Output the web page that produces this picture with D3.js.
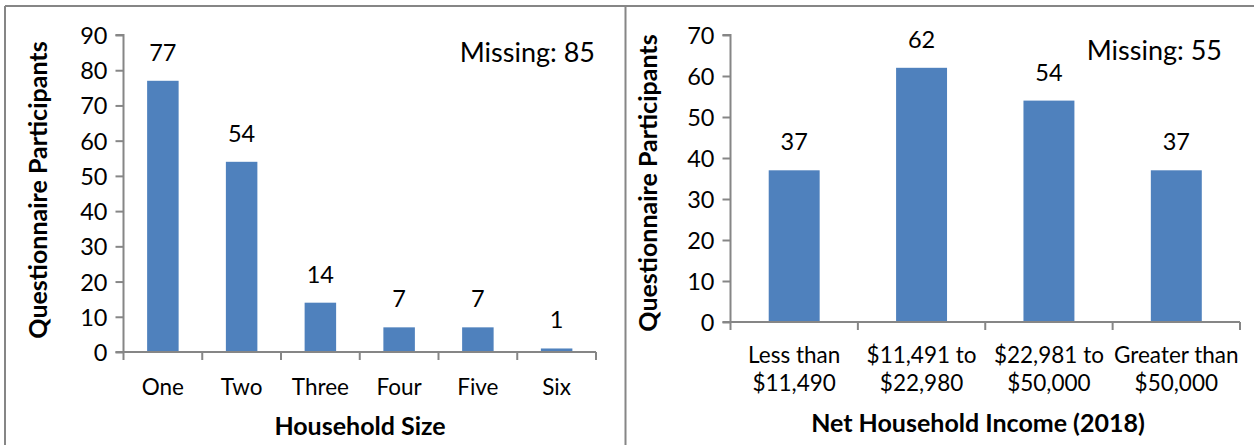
<!DOCTYPE html>
<html>
<head>
<meta charset="utf-8">
<script src="https://cdn.jsdelivr.net/npm/d3@7"></script>
<style>
  html, body { margin: 0; padding: 0; background: #fff; }
  svg { display: block; }
  text { font-family: Lato, "Open Sans", sans-serif; fill: #000; }
</style>
</head>
<body>
<svg id="chart" width="1254" height="445"></svg>
<script>
// Household size counts
const sizeCategories = ["One", "Two", "Three", "Four", "Five", "Six"];
const sizeValues = [77, 54, 14, 7, 7, 1];
const sizeTicks = [0, 10, 20, 30, 40, 50, 60, 70, 80, 90];
const sizeMissing = 85;

// Net household income counts (2018)
const incomeCategories = [
  ["Less than", "$11,490"],
  ["$11,491 to", "$22,980"],
  ["$22,981 to", "$50,000"],
  ["Greater than", "$50,000"]
];
const incomeValues = [37, 62, 54, 37];
const incomeTicks = [0, 10, 20, 30, 40, 50, 60, 70];
const incomeMissing = 55;

const barColor = "#4F81BD";
const axisColor = "#868686";
const numSize = 23.5;
const catSize = 22.5;
const titleSize = 25;
const noteSize = 27;

const svg = d3.select("#chart");

// panel frames
svg.append("line").attr("x1", 5).attr("x2", 5).attr("y1", 6).attr("y2", 445)
  .attr("stroke", axisColor).attr("stroke-width", 2);
svg.append("line").attr("x1", 5).attr("x2", 1254).attr("y1", 6).attr("y2", 6)
  .attr("stroke", axisColor).attr("stroke-width", 2);
svg.append("line").attr("x1", 625.5).attr("x2", 625.5).attr("y1", 6).attr("y2", 445)
  .attr("stroke", axisColor).attr("stroke-width", 2);

function drawPanel(opts) {
  const g = svg.append("g");
  const x = d3.scaleBand().domain(d3.range(opts.values.length))
    .range([opts.x0, opts.x1]).paddingInner(0.6).paddingOuter(0.3);
  const xb = d3.scaleBand().domain(d3.range(opts.values.length))
    .range([opts.x0, opts.x1]);
  const y = d3.scaleLinear().domain([0, d3.max(opts.ticks)]).range([opts.y0, opts.y1]);

  // bars
  g.selectAll("rect.bar").data(opts.values).enter().append("rect")
    .attr("class", "bar")
    .attr("x", (d, i) => x(i))
    .attr("width", x.bandwidth())
    .attr("y", d => y(d))
    .attr("height", d => y(0) - y(d))
    .attr("fill", barColor);

  // value labels
  g.selectAll("text.val").data(opts.values).enter().append("text")
    .attr("class", "val")
    .attr("x", (d, i) => x(i) + x.bandwidth() / 2)
    .attr("y", d => y(d) - 20)
    .attr("text-anchor", "middle")
    .style("font-size", numSize + "px")
    .text(d => d);

  // y axis
  const yAxis = g.append("g").attr("transform", `translate(${opts.x0},0)`)
    .call(d3.axisLeft(y).tickValues(opts.ticks).tickSize(8).tickPadding(8).tickFormat(d3.format("d")));
  yAxis.select(".domain").attr("stroke", axisColor).attr("stroke-width", 2)
    .attr("d", `M-8,${y(d3.max(opts.ticks))}H0V${y(0)}`);
  yAxis.selectAll(".tick line").attr("stroke", axisColor).attr("stroke-width", 2);
  yAxis.selectAll(".tick text").style("font-size", numSize + "px")
    .style("font-family", "Lato, sans-serif").attr("fill", "#000").attr("dy", "0.36em");

  // x axis with ticks on band edges
  const xa = g.append("g");
  xa.append("line").attr("x1", opts.x0 - 8).attr("x2", opts.x1)
    .attr("y1", y(0)).attr("y2", y(0)).attr("stroke", axisColor).attr("stroke-width", 2);
  const edges = d3.range(opts.values.length).map(i => xb(i)).concat([opts.x1]);
  xa.selectAll("line.edge").data(edges).enter().append("line")
    .attr("class", "edge")
    .attr("x1", d => d).attr("x2", d => d)
    .attr("y1", y(0)).attr("y2", y(0) + 8)
    .attr("stroke", axisColor).attr("stroke-width", 2);

  // category labels
  const labels = xa.selectAll("text.cat").data(opts.categories).enter().append("text")
    .attr("class", "cat")
    .attr("x", (d, i) => xb(i) + xb.bandwidth() / 2)
    .attr("y", opts.catY)
    .attr("text-anchor", "middle")
    .style("font-size", catSize + "px");
  labels.each(function (d) {
    const lines = Array.isArray(d) ? d : [d];
    const t = d3.select(this);
    lines.forEach((ln, k) => {
      t.append("tspan").attr("x", t.attr("x")).attr("dy", k === 0 ? 0 : 28).text(ln);
    });
  });

  // axis titles
  g.append("text")
    .attr("transform", `translate(${opts.yTitleX},${opts.yTitleY}) rotate(-90)`)
    .attr("text-anchor", "middle")
    .style("font-size", titleSize + "px").style("font-weight", "bold")
    .text("Questionnaire Participants");
  g.append("text")
    .attr("x", opts.xTitleX).attr("y", opts.xTitleY)
    .attr("text-anchor", "middle")
    .style("font-size", titleSize + "px").style("font-weight", "bold")
    .text(opts.xTitle);

  // missing count note
  g.append("text")
    .attr("x", opts.missX).attr("y", opts.missY)
    .attr("text-anchor", "end")
    .style("font-size", noteSize + "px")
    .text("Missing: " + opts.missing);
}

drawPanel({
  values: sizeValues, categories: sizeCategories, ticks: sizeTicks,
  x0: 123.5, x1: 596, y0: 352, y1: 35,
  catY: 395, xTitle: "Household Size", xTitleX: 360, xTitleY: 435,
  yTitleX: 47, yTitleY: 190,
  missing: sizeMissing, missX: 595, missY: 62
});

drawPanel({
  values: incomeValues, categories: incomeCategories, ticks: incomeTicks,
  x0: 730.5, x1: 1240, y0: 322, y1: 35,
  catY: 363, xTitle: "Net Household Income (2018)", xTitleX: 978, xTitleY: 432,
  yTitleX: 657, yTitleY: 183,
  missing: incomeMissing, missX: 1222, missY: 60
});
</script>
</body>
</html>
